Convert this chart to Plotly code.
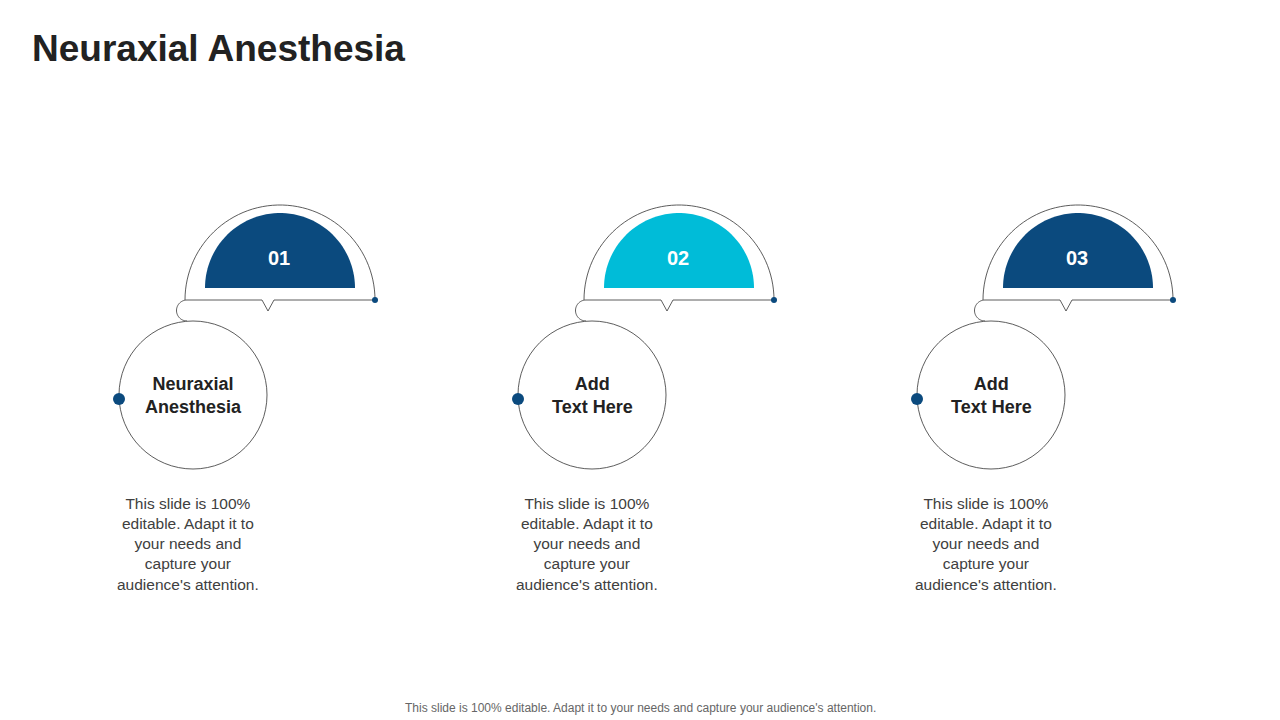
import numpy as np
import plotly.graph_objects as go

# slide content
step_numbers = ["01", "02", "03"]
step_titles = ["Neuraxial<br>Anesthesia", "Add<br>Text Here", "Add<br>Text Here"]
step_colors = ["#0b4a7e", "#00bcd8", "#0b4a7e"]
step_desc = ["This slide is 100%<br>editable. Adapt it to<br>your needs and<br>capture your<br>audience's attention."] * 3
step_x = [280, 679, 1078]  # centre of each half-dome

fig = go.Figure()
shapes = []
annotations = []


def arc_pts(cx, cy, r, t0, t1, n=60):
    t = np.linspace(t0, t1, n)
    return [(cx + r * np.cos(a), cy - r * np.sin(a)) for a in t]


def to_path(pts, close=False):
    s = "M " + " L ".join(f"{x:.2f},{y:.2f}" for x, y in pts)
    return s + (" Z" if close else "")


for i, cx in enumerate(step_x):
    # outline: dome + baseline with notch + small hook
    pts = arc_pts(cx, 300, 95, np.pi, 0)
    pts += [(cx + 95, 300), (cx - 6, 300), (cx - 12, 311), (cx - 18, 300), (cx - 93, 300)]
    pts += arc_pts(cx - 93, 310.5, 10.5, np.pi / 2, 3 * np.pi / 2, 30)
    shapes.append(dict(type="path", path=to_path(pts), line=dict(color="#333333", width=0.8)))
    # filled half disc
    shapes.append(dict(type="path", path=to_path(arc_pts(cx, 288, 75, np.pi, 0), close=True),
                       fillcolor=step_colors[i], line=dict(width=0)))
    # big circle
    ccx = cx - 87
    shapes.append(dict(type="circle", x0=ccx - 74, x1=ccx + 74, y0=321, y1=469,
                       line=dict(color="#333333", width=0.8), fillcolor="white"))
    # dots
    shapes.append(dict(type="circle", x0=ccx - 80, x1=ccx - 68, y0=393, y1=405,
                       fillcolor="#0b4a7e", line=dict(width=0)))
    shapes.append(dict(type="circle", x0=cx + 92, x1=cx + 98, y0=297, y1=303,
                       fillcolor="#0b4a7e", line=dict(width=0)))
    annotations.append(dict(x=cx - 1, y=258, text=f"<b>{step_numbers[i]}</b>", showarrow=False,
                            font=dict(size=20, color="white", family="Arial")))
    annotations.append(dict(x=ccx, y=395, text=f"<b>{step_titles[i]}</b>", showarrow=False,
                            font=dict(size=18, color="#222222", family="Arial")))
    annotations.append(dict(x=ccx - 5, y=544, text=step_desc[i], showarrow=False,
                            font=dict(size=15.5, color="#404040", family="Arial")))

annotations.append(dict(x=30, y=48, xanchor="left", text="<b>Neuraxial Anesthesia</b>", showarrow=False,
                        font=dict(size=37, color="#222222", family="Arial")))
annotations.append(dict(x=640, y=708, text="This slide is 100% editable. Adapt it to your needs and capture your audience's attention.",
                        showarrow=False, font=dict(size=12, color="#666666", family="Arial")))

# the page places the figure 8px in from the corner, so the view window is offset to match
fig.update_layout(width=1280, height=720, margin=dict(l=0, r=0, t=0, b=0),
                  plot_bgcolor="white", paper_bgcolor="white", showlegend=False,
                  shapes=shapes, annotations=annotations,
                  xaxis=dict(range=[8, 1288], visible=False),
                  yaxis=dict(range=[728, 8], visible=False))
fig.write_html("out.html")
